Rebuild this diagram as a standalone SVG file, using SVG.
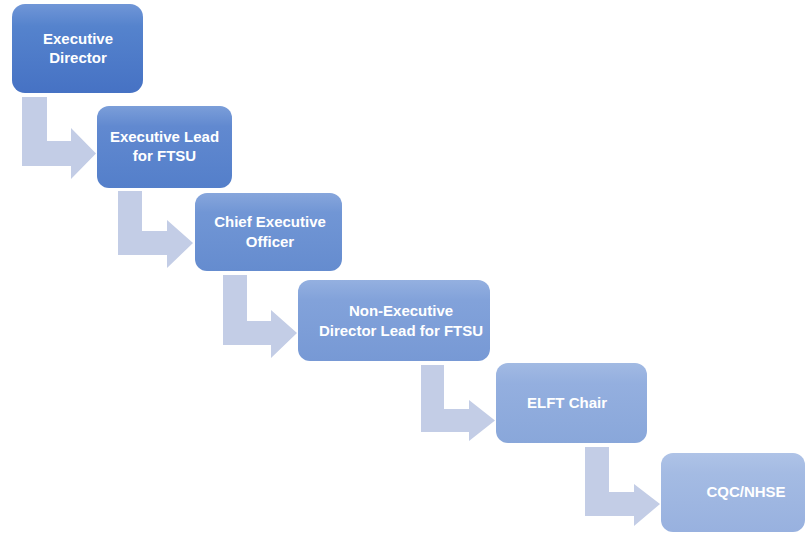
<svg xmlns="http://www.w3.org/2000/svg" width="807" height="540" viewBox="0 0 807 540">
<defs>
<linearGradient id="g1" x1="0" y1="0" x2="0" y2="1"><stop offset="0" stop-color="#7096d7"/><stop offset="0.25" stop-color="#5583cd"/><stop offset="1" stop-color="#4672c4"/></linearGradient>
<linearGradient id="g2" x1="0" y1="0" x2="0" y2="1"><stop offset="0" stop-color="#7b9ed9"/><stop offset="0.25" stop-color="#6189d0"/><stop offset="1" stop-color="#547fca"/></linearGradient>
<linearGradient id="g3" x1="0" y1="0" x2="0" y2="1"><stop offset="0" stop-color="#87a6dc"/><stop offset="0.25" stop-color="#7196d5"/><stop offset="1" stop-color="#658ccf"/></linearGradient>
<linearGradient id="g4" x1="0" y1="0" x2="0" y2="1"><stop offset="0" stop-color="#94b0e0"/><stop offset="0.25" stop-color="#82a2da"/><stop offset="1" stop-color="#7799d5"/></linearGradient>
<linearGradient id="g5" x1="0" y1="0" x2="0" y2="1"><stop offset="0" stop-color="#a2bae3"/><stop offset="0.25" stop-color="#94afdf"/><stop offset="1" stop-color="#89a7da"/></linearGradient>
<linearGradient id="g6" x1="0" y1="0" x2="0" y2="1"><stop offset="0" stop-color="#afc3e7"/><stop offset="0.25" stop-color="#a4bbe3"/><stop offset="1" stop-color="#98b1df"/></linearGradient>
</defs>
<style>
.arrow{fill:#c3cde6;stroke:none}
.t{font-family:"Liberation Sans",Arial,sans-serif;font-weight:bold;font-size:15px;fill:#ffffff;text-anchor:middle}
</style>
<rect width="807" height="540" fill="#ffffff"/>
<g id="connectors">
<path class="arrow" d="M22,97 L47,97 L47,141 L71,141 L71,128 L96,153.5 L71,179 L71,166 L22,166 Z"/>
<path class="arrow" d="M118,191 L142,191 L142,231 L167,231 L167,220 L193,243 L167,268 L167,255 L118,255 Z"/>
<path class="arrow" d="M223,275 L247,275 L247,321 L271,321 L271,310 L297,333 L271,358 L271,345 L223,345 Z"/>
<path class="arrow" d="M421,365 L444,365 L444,409 L469,409 L469,400 L495,420.5 L469,441 L469,432 L421,432 Z"/>
<path class="arrow" d="M585,447 L609,447 L609,492 L634,492 L634,484 L660,504 L634,526 L634,516 L585,516 Z"/>
</g>
<g id="n1"><rect x="12" y="4" width="131" height="89" rx="13" fill="url(#g1)"/><text class="t" x="78" y="44">Executive</text><text class="t" x="78" y="63">Director</text></g>
<g id="n2"><rect x="97" y="106" width="135" height="82" rx="12" fill="url(#g2)"/><text class="t" x="164.5" y="142">Executive Lead</text><text class="t" x="164.5" y="161">for FTSU</text></g>
<g id="n3"><rect x="195" y="193" width="147" height="78" rx="12" fill="url(#g3)"/><text class="t" x="270" y="227">Chief Executive</text><text class="t" x="270" y="247">Officer</text></g>
<g id="n4"><rect x="298" y="280" width="192" height="81" rx="12" fill="url(#g4)"/><text class="t" x="401" y="316">Non-Executive</text><text class="t" x="401" y="336">Director Lead for FTSU</text></g>
<g id="n5"><rect x="496" y="363" width="151" height="80" rx="12" fill="url(#g5)"/><text class="t" x="567" y="408">ELFT Chair</text></g>
<g id="n6"><rect x="661" y="453" width="144" height="79" rx="12" fill="url(#g6)"/><text class="t" x="746" y="497">CQC/NHSE</text></g>
</svg>
